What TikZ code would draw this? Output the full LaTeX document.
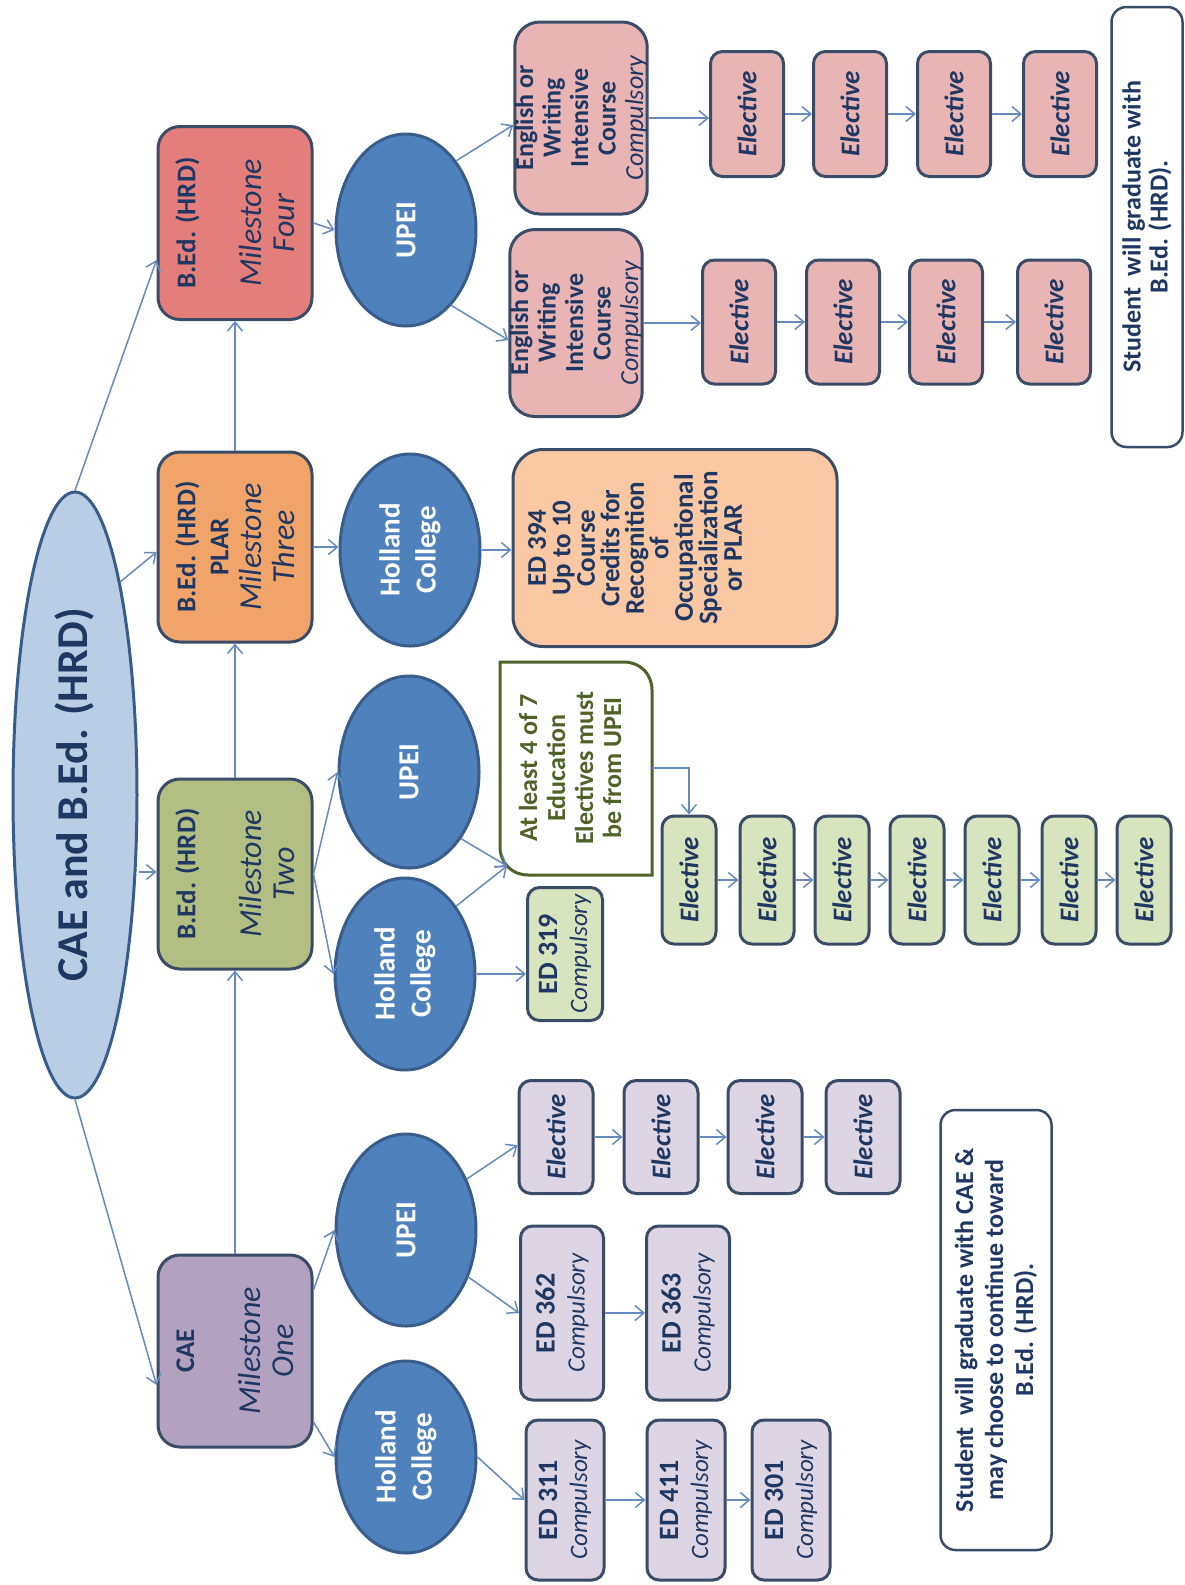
\documentclass[tikz,border=0pt]{standalone}
\usepackage{fontspec}
\setmainfont{Carlito}
\usepackage{graphicx}
\usetikzlibrary{shapes.geometric,arrows.meta,calc}
\definecolor{txtc}{RGB}{31,55,99}
\definecolor{bordc}{RGB}{58,76,104}
\definecolor{ellb}{RGB}{56,93,138}
\definecolor{bluec}{RGB}{79,129,189}
\definecolor{mainc}{RGB}{185,205,229}
\definecolor{connc}{RGB}{100,138,190}
\definecolor{mfour}{RGB}{228,126,122}
\definecolor{mthree}{RGB}{241,164,106}
\definecolor{mtwo}{RGB}{178,190,130}
\definecolor{mone}{RGB}{178,162,192}
\definecolor{pinkc}{RGB}{232,181,180}
\definecolor{peachc}{RGB}{250,200,162}
\definecolor{greenc}{RGB}{215,228,189}
\definecolor{lavc}{RGB}{221,213,228}
\definecolor{olivec}{RGB}{79,98,40}
% rotated multi-line text: #1 = baseline distance, rows separated by \cr
\newcommand{\rt}[2]{\rotatebox{90}{\vbox{\baselineskip=#1\relax\lineskiplimit=-100pt\lineskip=0pt\halign{\hfil##\hfil\cr#2\crcr}}}}
\newcommand{\mh}{\bfseries\fontsize{27}{33}\selectfont}
\newcommand{\mi}{\itshape\fontsize{32}{33}\selectfont}
\newcommand{\edh}{\bfseries\fontsize{28}{30}\selectfont}
\newcommand{\edc}{\itshape\fontsize{25}{30}\selectfont}
\begin{document}
\begin{tikzpicture}[x=1pt,y=-1pt,
  base/.style={rectangle,draw=bordc,line width=3pt,inner sep=0pt,text=txtc},
  mbox/.style={base,rounded corners=22pt,minimum width=154pt},
  ublob/.style={ellipse,fill=bluec,draw=ellb,line width=3pt,inner sep=0pt,minimum width=140pt,minimum height=192pt,text=white,font=\bfseries\fontsize{29}{35}\selectfont},
  engbox/.style={base,fill=pinkc,rounded corners=25pt,minimum width=131pt,font=\bfseries\fontsize{26}{27}\selectfont},
  elbox/.style={base,rounded corners=12pt,font=\bfseries\itshape\fontsize{27}{30}\selectfont},
  edbox/.style={base,rounded corners=12pt},
  sbox/.style={base,fill=white,line width=2.5pt,rounded corners=15pt,font=\bfseries\fontsize{26}{29}\selectfont},
  conn/.style={draw=connc,line width=1.5pt,-{Straight Barb[length=9pt,width=15pt,line width=1.5pt]}}]
\fill[white] (0,0) rectangle (1185,1585);
\useasboundingbox (0,0) rectangle (1185,1585);

% main ellipse
\node[ellipse,fill=mainc,draw=ellb,line width=3pt,inner sep=0pt,minimum width=124pt,minimum height=606pt,text=txtc,font=\bfseries\fontsize{44}{48}\selectfont] (main) at (75,795) {\rt{0pt}{CAE and B.Ed. (HRD)}};

% milestones
\node[mbox,fill=mfour,minimum height=193pt] (m4) at (235,223) {\rt{33pt}{\mh B.Ed. (HRD)\cr \cr \mi Milestone\cr \mi Four}};
\node[mbox,fill=mthree,minimum height=190pt] (m3) at (235,547) {\rt{33pt}{\mh B.Ed. (HRD)\cr \mh PLAR\cr \mi Milestone\cr \mi Three}};
\node[mbox,fill=mtwo,minimum height=190pt] (m2) at (235,874) {\rt{33pt}{\mh B.Ed. (HRD)\cr \cr \mi Milestone\cr \mi Two}};
\node[mbox,fill=mone,minimum height=192pt] (m1) at (235,1351) {\rt{33pt}{\mh CAE\cr \cr \mi Milestone\cr \mi One}};

% institutions
\node[ublob] (u4) at (406,230) {\rt{35pt}{UPEI}};
\node[ublob] (h3) at (410,550) {\rt{36pt}{Holland\cr College}};
\node[ublob] (u2) at (409,772) {\rt{35pt}{UPEI}};
\node[ublob] (h2) at (405,974) {\rt{36pt}{Holland\cr College}};
\node[ublob] (u1) at (406,1230) {\rt{35pt}{UPEI}};
\node[ublob] (h1) at (406,1457) {\rt{36pt}{Holland\cr College}};

% milestone four branch
\node[engbox,minimum height=192pt] (eng1) at (581,118) {\rt{27.5pt}{English or\cr Writing\cr Intensive\cr Course\cr \mdseries\itshape Compulsory}};
\node[engbox,minimum height=187pt] (eng2) at (576,323) {\rt{27.5pt}{English or\cr Writing\cr Intensive\cr Course\cr \mdseries\itshape Compulsory}};
\foreach \n/\x in {a/747,b/850,c/954,d/1060}{
  \node[elbox,fill=pinkc,minimum width=73pt,minimum height=125pt] (e1\n) at (\x,114) {\rt{0pt}{Elective}};}
\foreach \n/\x in {a/739,b/843,c/946,d/1054}{
  \node[elbox,fill=pinkc,minimum width=73pt,minimum height=124pt] (e2\n) at (\x,322) {\rt{0pt}{Elective}};}
\node[sbox,minimum width=71pt,minimum height=440pt] (sb1) at (1147,227) {\rt{27pt}{Student\ \ will graduate with\cr B.Ed. (HRD).}};

% milestone three branch
\node[base,fill=peachc,rounded corners=30pt,minimum width=324pt,minimum height=197pt,font=\bfseries\fontsize{27}{25}\selectfont] (ed394) at (675,548)
  {\rt{24.5pt}{ED 394\cr Up to 10\cr Course\cr Credits for\cr Recognition\cr of\cr Occupational\cr Specialization\cr or PLAR\cr\noalign{\vskip 80pt}}};

% milestone two branch
\filldraw[fill=white,draw=olivec,line width=3pt] (500,662) -- (624,662) .. controls (640,662) and (652,674) .. (652,690) -- (652,875) -- (528,875) .. controls (512,875) and (500,863) .. (500,847) -- cycle;
\node[rectangle,inner sep=0pt,minimum width=152pt,minimum height=213pt,text=olivec,font=\bfseries\fontsize{26}{28}\selectfont] (al) at (576,768)
  {\rt{28pt}{At least 4 of 7\cr Education\cr Electives must\cr be from UPEI\cr\noalign{\vskip 12pt}}};
\coordinate (alin) at (507,866);
\node[edbox,fill=greenc,minimum width=75pt,minimum height=133pt] (ed319) at (565,954) {\rt{30pt}{\edh ED 319\cr \edc Compulsory}};
\foreach \i/\x in {1/689,2/767,3/842,4/917,5/992,6/1069,7/1144}{
  \node[elbox,fill=greenc,minimum width=54pt,minimum height=128pt] (g\i) at (\x,880) {\rt{0pt}{Elective}};}

% milestone one branch
\foreach \i/\x in {1/556,2/661,3/765,4/863}{
  \node[elbox,fill=lavc,minimum width=74pt,minimum height=113pt] (ep\i) at (\x,1137) {\rt{0pt}{Elective}};}
\node[edbox,fill=lavc,minimum width=83pt,minimum height=174pt] (ed362) at (562,1313) {\rt{30pt}{\edh ED 362\cr \edc Compulsory}};
\node[edbox,fill=lavc,minimum width=83pt,minimum height=174pt] (ed363) at (688,1313) {\rt{30pt}{\edh ED 363\cr \edc Compulsory}};
\node[edbox,fill=lavc,minimum width=78pt,minimum height=160pt] (ed311) at (565,1500) {\rt{30pt}{\edh ED 311\cr \edc Compulsory}};
\node[edbox,fill=lavc,minimum width=78pt,minimum height=160pt] (ed411) at (686,1500) {\rt{30pt}{\edh ED 411\cr \edc Compulsory}};
\node[edbox,fill=lavc,minimum width=78pt,minimum height=160pt] (ed301) at (791,1500) {\rt{30pt}{\edh ED 301\cr \edc Compulsory}};
\node[sbox,minimum width=111pt,minimum height=440pt] (sb2) at (996,1330) {\rt{30pt}{Student\ \ will graduate with CAE \&\cr may choose to continue toward\cr B.Ed. (HRD).}};

% connectors from main
\draw[conn] (main.north) -- (m4.west |- 0,260);
\draw[conn] (main.78) -- (m3.west |- 0,552);
\draw[conn] (main.east |- 0,872) -- (m2.west |- 0,872);
\draw[conn] (main.south) -- (m1.west |- 0,1385);
\draw[conn] (m1.north) -- (m2.south);
\draw[conn] (m2.north) -- (m3.south);
\draw[conn] (m3.north) -- (m4.south);

% M4
\draw[conn] (m4.east) -- (u4.west);
\draw[conn] (u4.54) -- (eng1.west |- 0,125);
\draw[conn] (u4.-59) -- (eng2.west |- 0,340);
\draw[conn] (eng1.east) -- (eng1.east -| e1a.west);
\draw[conn] (e1a.east) -- (e1b.west);
\draw[conn] (e1b.east) -- (e1c.west);
\draw[conn] (e1c.east) -- (e1d.west);
\draw[conn] (eng2.east) -- (eng2.east -| e2a.west);
\draw[conn] (e2a.east) -- (e2b.west);
\draw[conn] (e2b.east) -- (e2c.west);
\draw[conn] (e2c.east) -- (e2d.west);

% M3
\draw[conn] (m3.east) -- (m3.east -| h3.west);
\draw[conn] (h3.east) -- (h3.east -| ed394.west);

% M2
\draw[conn] (m2.east) -- (u2.west);
\draw[conn] (m2.east) -- (h2.west);
\draw[conn] (u2.-52) -- (alin);
\draw[conn] (h2.53) -- (alin);
\draw[conn] (h2.east) -- (h2.east -| ed319.west);
\draw[conn] (al.east) -| (g1.north);
\draw[conn] (g1.east) -- (g2.west);
\draw[conn] (g2.east) -- (g3.west);
\draw[conn] (g3.east) -- (g4.west);
\draw[conn] (g4.east) -- (g5.west);
\draw[conn] (g5.east) -- (g6.west);
\draw[conn] (g6.east) -- (g7.west);

% M1
\draw[conn] (m1.east |- 0,1290) -- (u1.west);
\draw[conn] (m1.east |- 0,1422) -- (h1.west);
\draw[conn] (u1.40) -- (ep1.west |- 0,1145);
\draw[conn] (u1.-37) -- (ed362.west);
\draw[conn] (ep1.east) -- (ep2.west);
\draw[conn] (ep2.east) -- (ep3.west);
\draw[conn] (ep3.east) -- (ep4.west);
\draw[conn] (ed362.east) -- (ed363.west);
\draw[conn] (h1.east) -- (ed311.west);
\draw[conn] (ed311.east) -- (ed411.west);
\draw[conn] (ed411.east) -- (ed301.west);
\end{tikzpicture}
\end{document}
